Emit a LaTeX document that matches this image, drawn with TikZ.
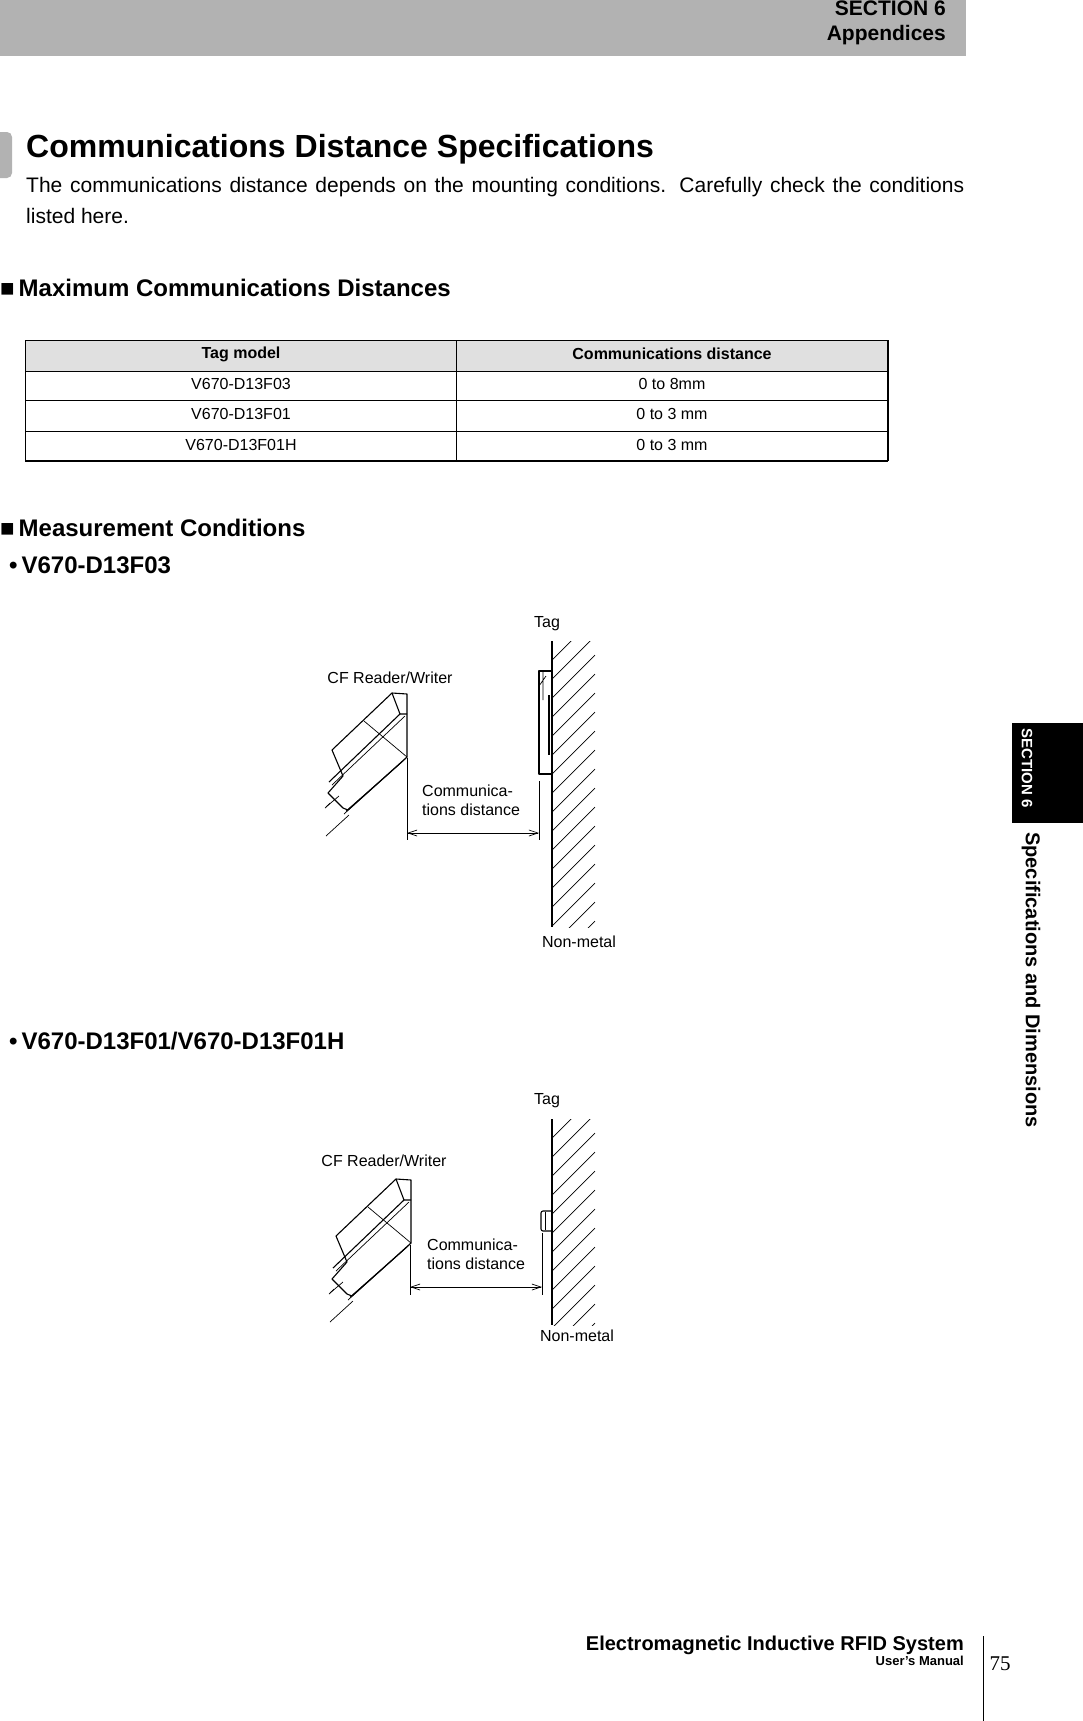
\documentclass[tikz,border=0pt]{standalone}
\usepackage{fontspec}
\setmainfont{Liberation Sans}
\newfontfamily\serifnum{Liberation Serif}
\usetikzlibrary{arrows.meta}
\begin{document}
\begin{tikzpicture}[x=1pt,y=-1pt,
  ln/.style={line width=1.1pt,line join=round},
  thin/.style={line width=0.7pt},
  lbl/.style={inner sep=0pt,font=\fontsize{16}{19}\selectfont},
  hd/.style={inner sep=0pt,anchor=west,font=\bfseries\fontsize{27}{30}\selectfont},
  cell/.style={inner sep=0pt,font=\fontsize{16}{18}\selectfont},
  reader/.pic={
    \draw[ln] (0,0) -- (15,1) -- (15,64) -- (-44,117) -- (-49,115) -- (-64,100) -- (-49,83) -- (-60,57) -- cycle;
    \draw[ln] (0,0) -- (8,21) -- (15,21);
    \draw[ln] (8,21) -- (-63,89);
    \draw[thin] (13,23) -- (-60,92);
    \draw[thin] (-28,28) -- (15,64);
    \draw[thin] (15,64) -- (11,68) -- (-46,118);
    \draw[thin] (11,68) -- (-48,121) -- (-44,117);
    \draw[thin] (-53,103) -- (-66,114);
    \draw[thin] (-43,122) -- (-66,143) ;
    \draw[thin] (-62,110) -- (-67,115);
  },
  hatch/.pic={
    \begin{scope}
    \clip (0,0) rectangle (43,#1);
    \foreach \k in {0,19,...,400}{\draw[thin] (0,\k) -- (43,\k-43);}
    \end{scope}
  }]
\useasboundingbox (0,0) rectangle (1083,1721);
\fill[white] (0,0) rectangle (1083,1721);
% header
\fill[black!30] (0,0) rectangle (966,56);
\node[anchor=north east,align=right,inner sep=0pt,font=\bfseries\fontsize{21}{25}\selectfont] (hdr) at (946,1) {SECTION 6\\Appendices};
% title
\fill[black!30,rounded corners=5pt] (-6,132) rectangle (12,178);
\node[anchor=west,inner sep=0pt,font=\bfseries\fontsize{32}{36}\selectfont] (title) at (26,149) {Communications Distance Specifications};
\node[anchor=north west,inner sep=0pt,text width=938pt,align=justify,font=\fontsize{21}{31}\selectfont] (body) at (26,177) {The communications distance depends on the mounting conditions. Carefully check the conditions listed here.};
\node[hd] (h1) at (0,288) {\fontsize{24}{24}\selectfont■\,Maximum Communications Distances};
% table
\fill[black!12] (25,340) rectangle (888,371);
\draw[thin] (25,340) -- (888,340) (25,371) -- (888,371) (25,400) -- (888,400) (25,431) -- (888,431);
\draw[line width=1.2pt] (25,461) -- (888,461) (888,340) -- (888,461);
\draw[thin] (25,340) -- (25,461) (456,340) -- (456,461);
\node[cell,font=\bfseries\fontsize{16}{18}\selectfont] (c1) at (241,354) {Tag model};
\node[cell,font=\bfseries\fontsize{16}{18}\selectfont] (c2) at (672,354) {Communications distance};
\node[cell] (r1a) at (241,384) {V670-D13F03};
\node[cell] (r1b) at (672,384) {0 to 8mm};
\node[cell] (r2a) at (241,414) {V670-D13F01};
\node[cell] (r2b) at (672,414) {0 to 3 mm};
\node[cell] (r3a) at (241,445) {V670-D13F01H};
\node[cell] (r3b) at (672,445) {0 to 3 mm};
\node[hd] (h2) at (0,528) {\fontsize{24}{24}\selectfont■\,Measurement Conditions};
\node[hd,font=\bfseries\fontsize{24}{28}\selectfont] (b1) at (9,565) {•\,V670-D13F03};
\node[hd,font=\bfseries\fontsize{24}{28}\selectfont] (b2) at (9,1041) {•\,V670-D13F01/V670-D13F01H};
% diagram 1
\pic at (552,641) {hatch=286};
\draw[ln] (552,641) -- (552,927);
\draw[ln] (552,671) -- (539,671) -- (539,774) -- (552,774);
\draw[thin] (543,671) -- (543,700) (539,686) -- (546,676);
\draw[ln] (549,695) -- (549,755);
\pic at (392,693) {reader};
\coordinate (e1a) at (407,758); \coordinate (e1b) at (407,840);
\coordinate (e2a) at (539,781); \coordinate (e2b) at (539,840);
\draw[thin] (e1a) -- (e1b) (e2a) -- (e2b);
\draw[thin,{Straight Barb[length=9pt,width=6pt]}-{Straight Barb[length=9pt,width=6pt]}] (407,833) -- (539,833);
\node[lbl] (tag1) at (547,624) {Tag};
\node[lbl] (cf1) at (390,678) {CF Reader/Writer};
\node[lbl] (nm1) at (579,942) {Non-metal};
\node[lbl,anchor=north west,align=left,font=\fontsize{16}{19}\selectfont] (cd1) at (422,785) {Communica-\\tions distance};
% diagram 2
\pic at (552,1119) {hatch=206};
\draw[ln] (552,1119) -- (552,1325);
\draw[ln,rounded corners=2pt] (552,1211) -- (541,1211) -- (541,1231) -- (552,1231);
\draw[thin] (545,1212) -- (545,1230);
\pic at (396,1179) {reader};
\draw[thin] (410,1245) -- (410,1295) (542,1233) -- (542,1295);
\draw[thin,{Straight Barb[length=9pt,width=6pt]}-{Straight Barb[length=9pt,width=6pt]}] (410,1287) -- (542,1287);
\node[lbl] (tag2) at (547,1101) {Tag};
\node[lbl] (cf2) at (384,1161) {CF Reader/Writer};
\node[lbl] (nm2) at (577,1336) {Non-metal};
\node[lbl,anchor=north west,align=left,font=\fontsize{16}{19}\selectfont] (cd2) at (427,1239) {Communica-\\tions distance};
% side tab
\fill[black] (1012,723) rectangle (1083,823);
\node[rotate=-90,anchor=west,inner sep=0pt,text=white,font=\bfseries\fontsize{15}{15}\selectfont] (st) at (1027,728) {SECTION 6};
\node[rotate=-90,anchor=west,inner sep=0pt,font=\bfseries\fontsize{20}{20}\selectfont] (sd) at (1031,832) {Specifications and Dimensions};
% footer
\node[anchor=east,inner sep=0pt,font=\bfseries\fontsize{20}{22}\selectfont] (f1) at (964,1645) {Electromagnetic Inductive RFID System};
\node[anchor=east,inner sep=0pt,font=\bfseries\fontsize{13}{14}\selectfont] (f2) at (964,1661) {User's Manual};
\draw[thin] (983,1636) -- (983,1721);
\node[inner sep=0pt,font=\serifnum\fontsize{21}{22}\selectfont] (pg) at (1000,1664) {75};
\end{tikzpicture}
\end{document}
